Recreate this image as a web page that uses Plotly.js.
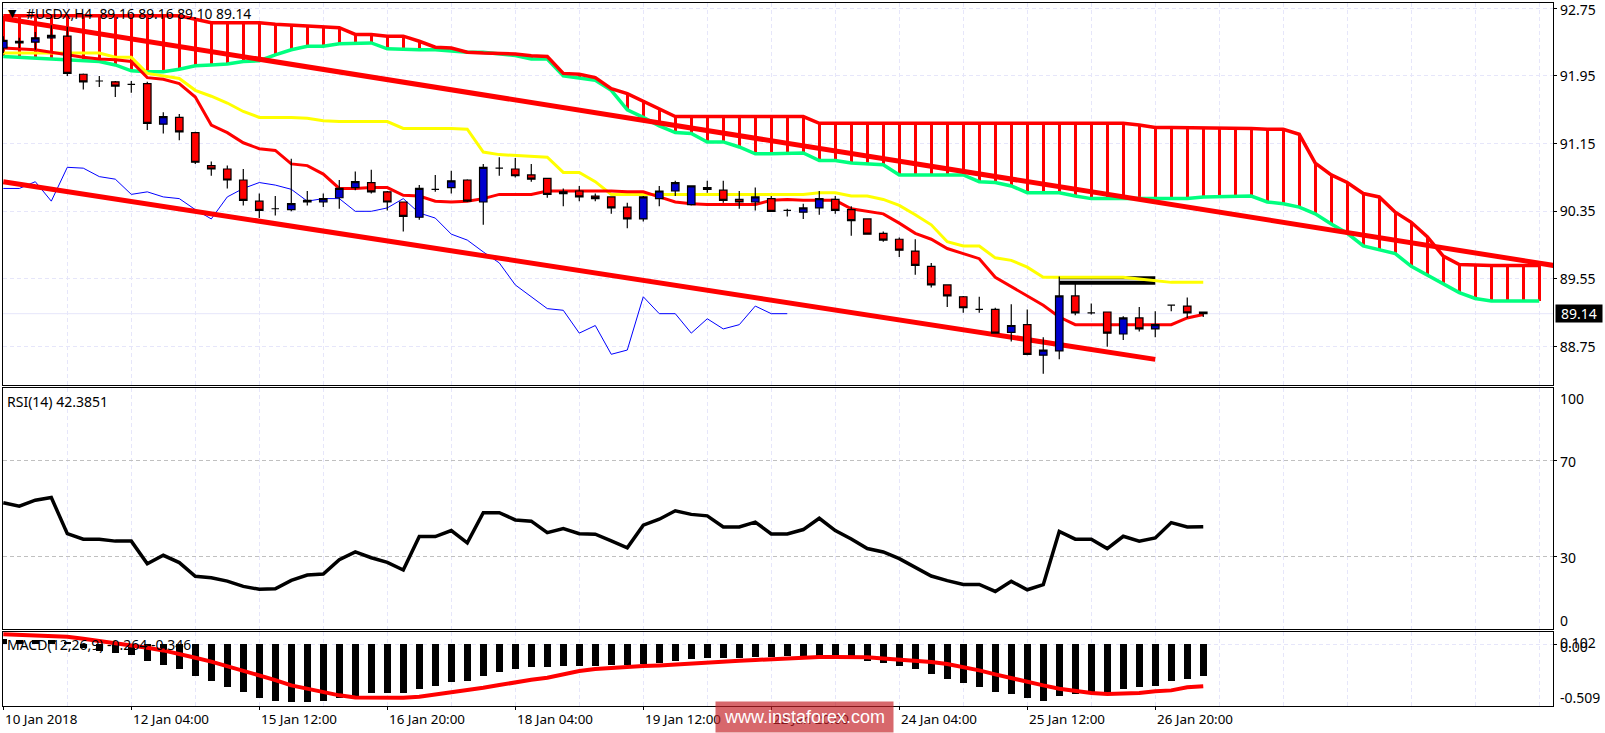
<!DOCTYPE html>
<html>
<head>
<meta charset="utf-8">
<script src="https://cdn.plot.ly/plotly-3.0.1.min.js"></script>
<style>html,body{margin:0;padding:0;background:#fff}#chart{width:1605px;height:733px}</style>
</head>
<body>
<div id="chart"></div>
<script>
const open_ = [92.28,92.36,92.35,92.40,92.42,91.97,91.89,91.88,91.85,91.86,
91.38,91.46,91.28,90.89,90.85,90.72,90.47,90.38,90.37,90.46,
90.46,90.51,90.63,90.69,90.58,90.46,90.28,90.61,90.63,90.72,
90.46,90.86,90.85,90.78,90.74,90.56,90.59,90.53,90.52,90.40,
90.26,90.50,90.59,90.43,90.63,90.60,90.49,90.46,90.50,90.36,
90.34,90.39,90.49,90.37,90.26,90.09,90.02,89.88,89.70,89.48,
89.34,89.19,89.19,88.92,89.01,88.65,88.70,89.35,89.15,89.16,
88.90,89.09,88.96,89.24,89.23,89.16];
const high_ = [92.42,92.40,92.47,92.55,92.53,91.98,91.95,91.89,91.89,91.88,
91.52,91.50,91.29,90.94,90.89,90.85,90.56,90.53,90.97,90.59,
90.56,90.72,90.82,90.84,90.59,90.46,90.66,90.78,90.83,90.73,
90.91,90.99,90.98,90.91,90.74,90.62,90.65,90.56,90.52,90.45,
90.53,90.65,90.71,90.65,90.71,90.71,90.59,90.63,90.53,90.38,
90.44,90.59,90.53,90.41,90.26,90.11,90.04,90.02,89.74,89.48,
89.35,89.34,89.21,89.25,89.19,88.86,89.58,89.50,89.26,89.16,
89.11,89.22,89.17,89.24,89.33,89.16];
const low_ = [92.22,92.28,92.26,92.39,91.95,91.79,91.82,91.70,91.75,91.31,
91.27,91.19,90.91,90.77,90.62,90.42,90.27,90.30,90.35,90.42,
90.40,90.38,90.60,90.56,90.36,90.11,90.25,90.58,90.56,90.46,
90.19,90.77,90.75,90.70,90.51,90.41,90.47,90.47,90.32,90.15,
90.23,90.41,90.53,90.42,90.57,90.45,90.38,90.36,90.35,90.29,
90.26,90.31,90.32,90.06,90.08,89.99,89.81,89.60,89.45,89.22,
89.15,89.15,88.91,88.81,88.65,88.43,88.60,89.12,89.13,88.75,
88.83,88.93,88.86,89.17,89.09,89.10];
const close_ = [92.37,92.34,92.40,92.43,91.98,91.88,91.89,91.83,91.85,91.39,
91.47,91.29,90.93,90.85,90.72,90.48,90.36,90.38,90.44,90.48,
90.50,90.62,90.70,90.58,90.46,90.29,90.62,90.61,90.71,90.47,
90.87,90.86,90.77,90.73,90.55,90.58,90.52,90.50,90.39,90.26,
90.52,90.59,90.69,90.65,90.61,90.48,90.46,90.52,90.35,90.36,
90.39,90.50,90.36,90.24,90.08,90.01,89.89,89.71,89.48,89.35,
89.21,89.19,88.91,89.00,88.66,88.71,89.35,89.15,89.15,88.91,
89.09,88.96,89.01,89.24,89.15,89.14];
const tenkan = [92.28,92.27,92.26,92.23,92.20,92.17,92.15,92.14,92.12,91.93,
91.91,91.86,91.70,91.37,91.28,91.16,91.09,91.07,90.91,90.89,
90.79,90.62,90.62,90.63,90.63,90.54,90.53,90.47,90.46,90.47,
90.50,90.55,90.55,90.55,90.59,90.59,90.59,90.59,90.59,90.58,
90.58,90.52,90.46,90.44,90.43,90.43,90.43,90.43,90.48,90.49,
90.48,90.48,90.48,90.38,90.35,90.32,90.21,90.09,90.02,89.91,
89.85,89.79,89.57,89.46,89.35,89.24,89.10,89.01,89.01,89.01,
89.01,89.01,89.01,89.01,89.09,89.13];
const kijun = [92.22,92.22,92.22,92.22,92.22,92.22,92.22,92.17,92.17,91.98,
91.95,91.92,91.78,91.71,91.63,91.53,91.46,91.46,91.46,91.45,
91.42,91.41,91.41,91.41,91.41,91.33,91.33,91.33,91.33,91.32,
91.05,91.02,91.01,91.00,90.99,90.81,90.81,90.70,90.55,90.55,
90.55,90.55,90.55,90.55,90.55,90.55,90.55,90.55,90.55,90.55,
90.55,90.57,90.57,90.53,90.53,90.49,90.42,90.31,90.19,89.99,
89.94,89.94,89.80,89.77,89.69,89.57,89.57,89.57,89.57,89.57,
89.57,89.55,89.53,89.51,89.51,89.51];
const chikou = [90.62,90.62,90.70,90.47,90.87,90.86,90.76,90.73,90.55,90.58,
90.52,90.50,90.37,90.26,90.52,90.62,90.69,90.66,90.61,90.47,
90.50,90.50,90.35,90.35,90.39,90.50,90.33,90.27,90.08,90.01,
89.87,89.74,89.48,89.34,89.20,89.18,88.91,89.00,88.66,88.71,
89.34,89.14,89.14,88.91,89.08,88.96,89.01,89.23,89.14,89.14];
const spanTop = [92.66,92.66,92.66,92.66,92.66,92.66,92.66,92.66,92.66,92.66,
92.66,92.66,92.62,92.58,92.58,92.58,92.58,92.56,92.55,92.55,
92.54,92.52,92.44,92.44,92.42,92.42,92.36,92.29,92.28,92.23,
92.22,92.22,92.21,92.19,92.18,91.98,91.97,91.93,91.80,91.74,
91.65,91.56,91.47,91.47,91.47,91.47,91.47,91.47,91.47,91.47,
91.47,91.39,91.39,91.39,91.39,91.39,91.39,91.39,91.39,91.39,
91.39,91.39,91.39,91.39,91.39,91.39,91.39,91.39,91.39,91.39,
91.39,91.37,91.34,91.34,91.34,91.34,91.34,91.34,91.33,91.32,
91.32,91.26,90.92,90.78,90.69,90.56,90.52,90.34,90.22,90.05,
89.82,89.72,89.71,89.71,89.71,89.71,89.71];
const spanBottom = [92.18,92.17,92.15,92.14,92.13,92.12,92.12,92.08,92.01,92.00,
92.00,92.03,92.07,92.08,92.09,92.12,92.13,92.20,92.26,92.30,
92.30,92.33,92.34,92.34,92.27,92.26,92.26,92.26,92.24,92.23,
92.23,92.21,92.19,92.15,92.15,91.95,91.93,91.90,91.78,91.55,
91.46,91.36,91.28,91.27,91.17,91.17,91.11,91.03,91.03,91.03,
91.04,90.95,90.95,90.92,90.91,90.90,90.78,90.78,90.78,90.78,
90.78,90.70,90.69,90.65,90.57,90.57,90.57,90.53,90.50,90.50,
90.50,90.50,90.50,90.50,90.50,90.52,90.52,90.52,90.53,90.46,
90.44,90.40,90.32,90.20,90.09,89.94,89.89,89.85,89.70,89.60,
89.50,89.39,89.32,89.29,89.29,89.29,89.29];
const channelUpperX = [0, 96.9];
const channelUpperY = [92.63, 89.71];
const channelLowerX = [0, 72];
const channelLowerY = [90.70, 88.60];
const levelX = [66, 72];
const levelHigh = [89.565, 89.565];
const levelLow = [89.505, 89.505];
const rsi = [52.3,50.9,53.4,54.5,39.5,37.2,37.2,36.4,36.4,27.0,
30.5,27.5,21.8,21.2,19.8,17.6,16.4,16.6,20.1,22.3,
22.7,28.7,31.9,29.5,27.6,24.4,38.3,38.3,40.8,35.7,
48.2,48.2,45.2,44.7,39.9,41.6,39.5,39.3,36.5,33.6,
43.0,45.5,49.0,47.5,46.9,42.3,42.3,44.3,39.4,39.4,
41.2,45.9,40.8,37.3,33.3,31.9,29.1,25.4,21.9,20.0,
18.4,18.4,15.5,19.7,16.2,18.3,40.4,37.2,37.2,33.3,
38.4,36.4,37.7,44.1,42.3,42.39];
const macdHist = [0.047,0.04,0.04,0.04,0.02,-0.033,-0.055,-0.074,-0.091,-0.14,
-0.174,-0.207,-0.264,-0.306,-0.355,-0.397,-0.446,-0.471,-0.479,-0.479,
-0.471,-0.446,-0.43,-0.405,-0.405,-0.405,-0.372,-0.347,-0.314,-0.306,
-0.264,-0.231,-0.207,-0.19,-0.19,-0.182,-0.182,-0.182,-0.174,-0.174,
-0.165,-0.157,-0.14,-0.124,-0.116,-0.116,-0.116,-0.107,-0.107,-0.099,
-0.099,-0.099,-0.099,-0.099,-0.14,-0.157,-0.182,-0.207,-0.248,-0.289,
-0.322,-0.355,-0.397,-0.413,-0.446,-0.471,-0.43,-0.413,-0.413,-0.40,
-0.372,-0.355,-0.347,-0.306,-0.289,-0.264];
const macdSignal = [0.083,0.08,0.077,0.074,0.063,0.047,0.03,0.014,-0.008,-0.028,
-0.05,-0.077,-0.11,-0.143,-0.179,-0.215,-0.251,-0.295,-0.339,-0.366,
-0.399,-0.421,-0.438,-0.441,-0.441,-0.441,-0.433,-0.416,-0.399,-0.377,
-0.358,-0.336,-0.311,-0.292,-0.275,-0.248,-0.22,-0.204,-0.193,-0.185,
-0.179,-0.174,-0.165,-0.16,-0.152,-0.143,-0.135,-0.129,-0.121,-0.116,
-0.11,-0.105,-0.105,-0.105,-0.107,-0.116,-0.124,-0.135,-0.146,-0.163,
-0.185,-0.215,-0.248,-0.281,-0.309,-0.339,-0.366,-0.386,-0.402,-0.41,
-0.41,-0.402,-0.388,-0.38,-0.355,-0.346];
const dateLabels = ["10 Jan 2018","12 Jan 04:00","15 Jan 12:00","16 Jan 20:00","18 Jan 04:00","19 Jan 12:00","22 Jan 20:00","24 Jan 04:00","25 Jan 12:00","26 Jan 20:00"];
const dateBars = [0,8,16,24,32,40,48,56,64,72];
const priceTicks = [92.75,91.95,91.15,90.35,89.55,88.75];
const priceLabels = ["92.75","91.95","91.15","90.35","89.55","88.75"];
const lastPrice = 89.14;
const title = "#USDX,H4  89.16 89.16 89.10 89.14";

const W = 1605, H = 733;
const FONT = '"Noto Sans", Tahoma, sans-serif';
const RED = '#ff0000', YEL = '#ffff00', GRN = '#00ff7f', GRID = '#e6e6fa';
const idx = n => Array.from({length:n}, (_,i)=>i);
const px = v => v / W;
const py = v => 1 - v / H;
const xRange = [-0.05, 96.86];

const line = (x, y, color, width, xa, ya) => ({
  type:'scatter', mode:'lines', x, y, xaxis:xa||'x', yaxis:ya||'y',
  line:{color, width, shape:'linear'}, hoverinfo:'skip', showlegend:false
});

const traces = [
  line([-1,98],[lastPrice,lastPrice],GRID,1),
  {type:'bar', x:idx(spanTop.length), base:spanBottom, y:spanTop.map((t,i)=>t-spanBottom[i]),
   width:0.2, marker:{color:RED, line:{width:0}}, xaxis:'x', yaxis:'y', hoverinfo:'skip', showlegend:false},
  line(idx(spanBottom.length), spanBottom, GRN, 3.5),
  line(idx(spanTop.length), spanTop, RED, 3.5),
  line(idx(chikou.length), chikou, '#0000ff', 1),
  line(levelX, levelHigh, '#000000', 3),
  line(levelX, levelLow, '#000000', 4),
  line(idx(kijun.length), kijun, YEL, 3),
  line(idx(tenkan.length), tenkan, RED, 3),
  line(channelUpperX, channelUpperY, RED, 5),
  line(channelLowerX, channelLowerY, RED, 5),
  {type:'candlestick', x:idx(open_.length), open:open_, high:high_, low:low_, close:close_,
   xaxis:'x', yaxis:'y4', whiskerwidth:0, hoverinfo:'skip', showlegend:false,
   increasing:{line:{color:'#000000',width:1.2}, fillcolor:'#0000cd'},
   decreasing:{line:{color:'#000000',width:1.2}, fillcolor:'#ff0000'}},
  line(idx(rsi.length), rsi, '#000000', 3.5, 'x2', 'y2'),
  {type:'bar', x:idx(macdHist.length), y:macdHist, width:0.42, marker:{color:'#000000', line:{width:0}},
   xaxis:'x3', yaxis:'y3', hoverinfo:'skip', showlegend:false},
  line(idx(macdSignal.length), macdSignal, RED, 4, 'x3', 'y3')
];

const xBase = {
  domain:[px(2.5), px(1553)], range:xRange, type:'linear', fixedrange:true, zeroline:false,
  showline:true, mirror:true, linecolor:'#000000', linewidth:1,
  tickmode:'array', tickvals:dateBars, ticktext:dateBars.map(()=>''),
  showticklabels:false, showgrid:true, griddash:'4px,3px', gridcolor:GRID, gridwidth:1,
  minor:{tickmode:'linear', tick0:0, dtick:4, showgrid:true, griddash:'4px,3px', gridcolor:GRID, gridwidth:1, ticks:''},
  ticks:'', rangeslider:{visible:false}
};
const yBase = {
  side:'right', type:'linear', fixedrange:true, zeroline:false,
  showline:true, mirror:true, linecolor:'#000000', linewidth:1,
  ticks:'outside', ticklen:3, tickcolor:'#000000', tickfont:{family:FONT, size:14, color:'#000000'}
};
const mainRange = [88.297, 92.818];

const txt = (text, x, y, extra) => Object.assign({
  text, xref:'paper', yref:'paper', x:px(x), y:py(y), xanchor:'left', yanchor:'middle',
  showarrow:false, align:'left', font:{family:FONT, size:14, color:'#000000'}
}, extra||{});

const annotations = [
  txt('▼', 6, 13, {font:{family:'"DejaVu Sans"', size:11, color:'#000000'}}),
  txt(title, 24, 14, {font:{family:FONT, size:13.8, color:'#000000'}}),
  txt('RSI(14) 42.3851', 5, 401),
  txt('MACD(12,26,9) -0.264 -0.346', 5, 644),
  txt(priceLabels[0], 1558, 9.5),
  txt('100', 1558, 398),
  txt('70', 1558, 461),
  txt('30', 1558, 557),
  txt('0', 1558, 620),
  txt('0.102', 1558, 642.5),
  txt('0.00', 1558, 646),
  txt('-0.509', 1558, 697),
  txt(lastPrice.toFixed(2), 1555, 313.5, {width:46, height:17, bgcolor:'#000000', borderpad:0, align:'center', font:{family:FONT, size:14, color:'#ffffff'}})
];
dateLabels.forEach((t,i)=>{
  annotations.push({text:t, xref:'x', yref:'paper', x:dateBars[i], y:py(719), xanchor:'left', yanchor:'middle',
    showarrow:false, font:{family:FONT, size:13.4, color:'#000000'}});
});
annotations.push(txt('www.instaforex.com', 715, 717, {width:177, height:30, align:'center',
  bgcolor:'rgba(196,32,38,0.68)', borderpad:0, font:{family:'"Liberation Sans", Arial, sans-serif', size:18, color:'#ffffff'}}));

const layout = {
  width:W, height:H, autosize:false, margin:{l:0,r:0,t:0,b:0,pad:0},
  paper_bgcolor:'#ffffff', plot_bgcolor:'#ffffff', showlegend:false, barmode:'overlay', bargap:0, boxgap:0.33,
  xaxis: Object.assign({}, xBase, {anchor:'y'}),
  xaxis2: Object.assign({}, xBase, {anchor:'y2'}),
  xaxis3: Object.assign({}, xBase, {anchor:'y3', ticks:'outside', ticklen:3, tickcolor:'#000000'}),
  yaxis: Object.assign({}, yBase, {domain:[py(385), py(2.5)], range:mainRange, anchor:'x',
    tickmode:'array', tickvals:priceTicks, ticktext:['',...priceLabels.slice(1)], showgrid:true, griddash:'4px,3px', gridcolor:GRID, gridwidth:1}),
  yaxis4: {overlaying:'y', side:'right', range:mainRange, anchor:'x', visible:false, fixedrange:true, type:'linear'},
  yaxis2: Object.assign({}, yBase, {domain:[py(629), py(387.5)], range:[-0.1,100.2], anchor:'x2',
    tickmode:'array', tickvals:[70,30], ticktext:['',''], showgrid:true, griddash:'4px,3px', gridcolor:'#c0c0c0', gridwidth:1}),
  yaxis3: Object.assign({}, yBase, {domain:[py(706), py(632)], range:[-0.509,0.102], anchor:'x3',
    tickmode:'array', tickvals:[0], ticktext:[''], showgrid:true, griddash:'4px,3px', gridcolor:GRID, gridwidth:1}),
  annotations
};
Plotly.newPlot('chart', traces, layout, {displayModeBar:false, staticPlot:true, responsive:false});
</script>
</body>
</html>
